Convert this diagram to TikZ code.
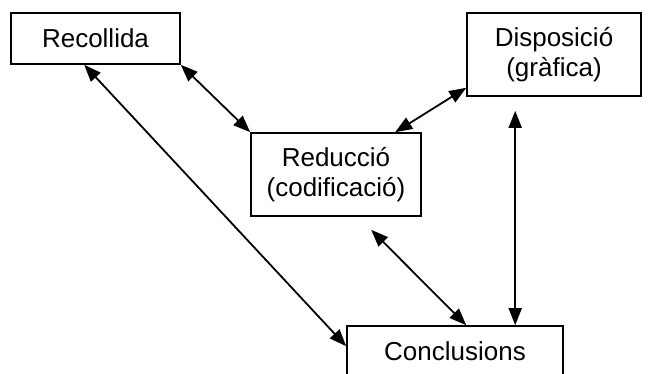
\documentclass[tikz,border=0pt]{standalone}
\usepackage{fontspec}
\setmainfont{Liberation Sans}
\usetikzlibrary{arrows.meta,calc}
\begin{document}
\begin{tikzpicture}[x=1pt,y=-1pt,
  box/.style={draw,line width=1.6pt,inner sep=0pt,align=center,
    font=\fontsize{26}{30}\selectfont},
  link/.style={line width=1.8pt,{Triangle[length=17pt,width=13pt]}-{Triangle[length=17pt,width=13pt]}}]
  \useasboundingbox (0,0) rectangle (649,373);
  \begin{scope}
  \clip (0,0) rectangle (649,373);
  \node[box,minimum width=169pt,minimum height=51pt] (rec) at (95.5,38.5) {Recollida};
  \node[box,minimum width=174pt,minimum height=83pt] (dis) at (554,54.5) {Disposició\\(gràfica)};
  \node[box,minimum width=170pt,minimum height=83pt] (red) at (336,174.5) {Reducció\\(codificació)};
  \node[box,minimum width=216pt,minimum height=51pt] (con) at (455,351.5) {Conclusions};
  \end{scope}
  % free ends of two connectors
  \coordinate (redfree) at ($(red.south west)+(121,13)$);
  \coordinate (disfree) at ($(dis.south west)+(49,14)$);
  \draw[link] ($(rec.south west)+(74,0)$) -- ($(con.north west)+(0,21)$);
  \draw[link] (rec.south east) -- (red.north west);
  \draw[link] ($(dis.south west)+(0,-9)$) -- ($(red.north west)+(145,0)$);
  \draw[link] (redfree) -- ($(con.north west)+(120,0)$);
  \draw[link] (disfree) -- ($(con.north west)+(169,0)$);
\end{tikzpicture}
\end{document}
